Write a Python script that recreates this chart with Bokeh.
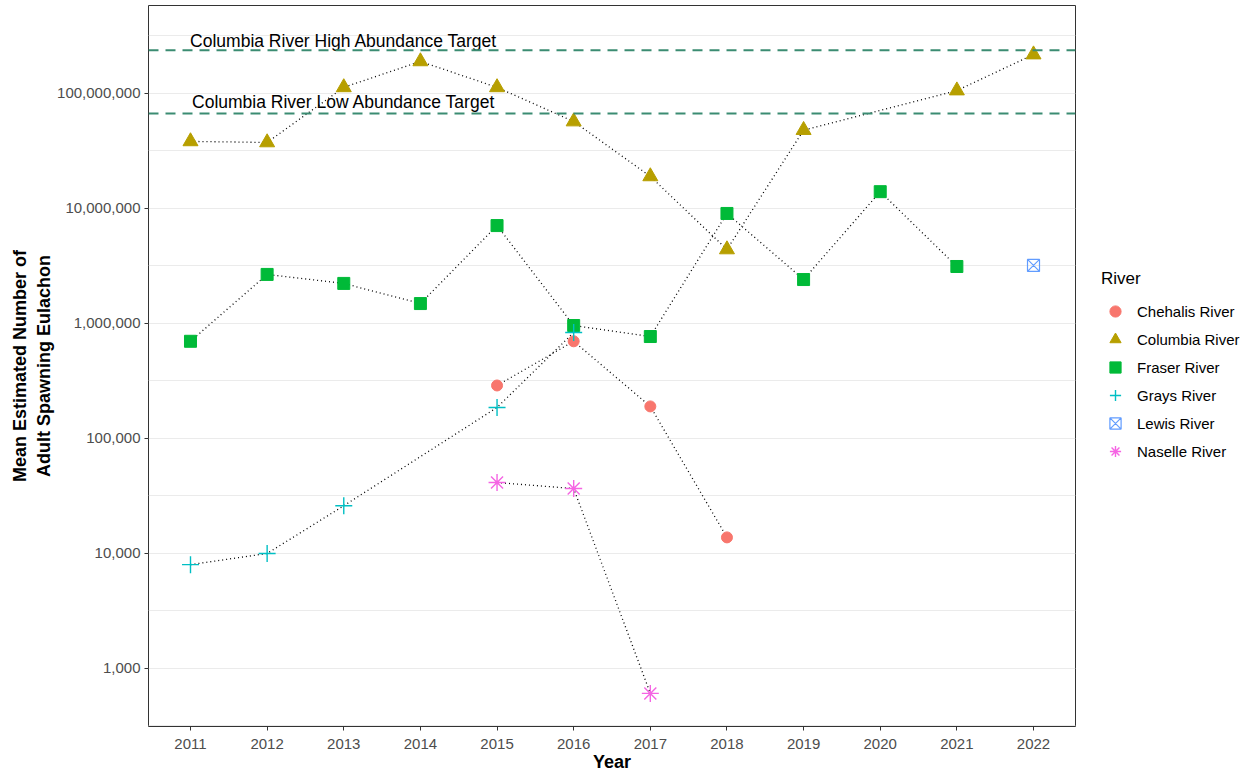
import numpy as np
from bokeh.plotting import figure
from bokeh.layouts import row
from bokeh.models import (Range1d, FixedTicker, NumeralTickFormatter, Span, Legend,
                          LegendItem, ColumnDataSource)
from bokeh.core.properties import value
from bokeh.embed import file_html
from bokeh.resources import INLINE

FONT = "Liberation Sans"

# ---- data ----
chehalis_years = [2015, 2016, 2017, 2018]
chehalis_vals = [289000, 700000, 190000, 13800]

columbia_years = [2011, 2012, 2013, 2014, 2015, 2016, 2017, 2018, 2019, 2021, 2022]
columbia_vals = [38300000, 37500000, 113000000, 190000000, 113000000, 57000000,
                 19000000, 4400000, 48000000, 106000000, 218000000]

fraser_years = [2011, 2012, 2013, 2014, 2015, 2016, 2017, 2018, 2019, 2020, 2021]
fraser_vals = [700000, 2670000, 2230000, 1490000, 7100000, 960000, 770000,
               9050000, 2410000, 14000000, 3130000]

grays_years = [2011, 2012, 2013, 2015, 2016]
grays_vals = [8000, 10000, 26000, 186000, 835000]

lewis_years = [2022]
lewis_vals = [3200000]

naselle_years = [2015, 2016, 2017]
naselle_vals = [41400, 36700, 607]

HIGH_TARGET = 237000000
LOW_TARGET = 67000000

year_ticks = list(range(2011, 2023))
y_ticks = [1e3, 1e4, 1e5, 1e6, 1e7, 1e8]
y_minor = [10 ** (k + 0.5) for k in range(2, 9)]

series = [
    ("Chehalis River", chehalis_years, chehalis_vals, "#F8766D", "circle", 11),
    ("Columbia River", columbia_years, columbia_vals, "#B79F00", "triangle", 15),
    ("Fraser River", fraser_years, fraser_vals, "#00BA38", "square", 12),
    ("Grays River", grays_years, grays_vals, "#00BFC4", "cross", 17),
    ("Lewis River", lewis_years, lewis_vals, "#619CFF", "square_x", 12),
    ("Naselle River", naselle_years, naselle_vals, "#F564E3", "asterisk", 17),
]

H = 776


def draw_marker(fig, src, col, mk, sz):
    if mk in ("cross", "asterisk"):
        return fig.scatter("x", "y", source=src, marker=mk, size=sz, line_color=col,
                           line_width=1.4)
    if mk == "square_x":
        return fig.scatter("x", "y", source=src, marker=mk, size=sz, line_color=col,
                           fill_color=None, line_width=1.2)
    return fig.scatter("x", "y", source=src, marker=mk, size=sz, line_color=col,
                       fill_color=col)


p = figure(width=1076, height=H, output_backend="svg", toolbar_location=None,
           y_axis_type="log",
           x_range=Range1d(2010.452, 2022.548),
           y_range=Range1d(313, 5.82e8),
           min_border_left=148, min_border_right=1, min_border_top=5,
           min_border_bottom=50)

p.background_fill_color = "white"
p.border_fill_color = "white"
p.outline_line_color = "#333333"
p.outline_line_width = 1

# grids
p.xgrid.grid_line_color = None
p.ygrid.grid_line_color = "#EBEBEB"
p.ygrid.grid_line_width = 1
p.ygrid.minor_grid_line_color = "#EBEBEB"
p.ygrid.minor_grid_line_width = 1

# axes
p.xaxis.ticker = FixedTicker(ticks=year_ticks)
p.yaxis.ticker = FixedTicker(ticks=y_ticks, minor_ticks=y_minor)
p.yaxis.formatter = NumeralTickFormatter(format="0,0")
for ax in (p.xaxis[0], p.yaxis[0]):
    ax.axis_line_color = None
    ax.major_tick_line_color = "#333333"
    ax.major_tick_out = 4
    ax.major_tick_in = 0
    ax.minor_tick_line_color = None
    ax.major_label_text_font = FONT
    ax.major_label_text_font_size = "15px"
    ax.major_label_text_color = "#4D4D4D"
    ax.axis_label_text_font = FONT
    ax.axis_label_text_font_size = "18px"
    ax.axis_label_text_font_style = "bold"
    ax.axis_label_text_color = "black"
p.xaxis.major_label_standoff = 8
p.xaxis.axis_label_standoff = 0
p.yaxis.major_label_standoff = 4
p.yaxis.axis_label_standoff = 0
p.xaxis.axis_label = "Year"
p.yaxis.axis_label = "Mean Estimated Number of\nAdult Spawning Eulachon"

# target lines
for t in (HIGH_TARGET, LOW_TARGET):
    p.add_layout(Span(location=t, dimension="width", line_color="#3B8C72",
                      line_width=2, line_dash="10 7"))

p.text(x=[2013, 2013], y=[2.86e8, 8.35e7],
       text=["Columbia River High Abundance Target", "Columbia River Low Abundance Target"],
       text_font=value(FONT), text_font_size="17.5px", text_color="black",
       text_align="center", text_baseline="middle")

# dotted connecting lines
for name, xs, ys, col, mk, sz in series:
    if len(xs) > 1:
        p.line(xs, ys, line_color="black", line_width=1.3, line_dash="1 3")

for name, xs, ys, col, mk, sz in series:
    draw_marker(p, ColumnDataSource(dict(x=xs, y=ys)), col, mk, sz)

# ---- legend panel ----
lg = figure(width=164, height=H, output_backend="svg", toolbar_location=None,
            x_range=Range1d(0, 1), y_range=Range1d(0, 1),
            x_axis_type=None, y_axis_type=None,
            min_border_left=0, min_border_right=0, min_border_top=0,
            min_border_bottom=0)
lg.outline_line_color = None
lg.xgrid.grid_line_color = None
lg.ygrid.grid_line_color = None
lg.background_fill_color = "white"
lg.border_fill_color = "white"

items = []
for name, xs, ys, col, mk, sz in series:
    # off-canvas placeholder point so the legend draws the glyph
    r = draw_marker(lg, ColumnDataSource(dict(x=[-10], y=[-10])), col, mk, sz)
    items.append(LegendItem(label=name, renderers=[r]))

legend = Legend(items=items, title="River", location=(25, 261),
                title_text_font=FONT, title_text_font_size="17px",
                title_text_font_style="normal", title_text_color="black",
                title_standoff=8,
                label_text_font=FONT, label_text_font_size="15px",
                label_text_color="black",
                glyph_width=28, glyph_height=28, label_height=28, spacing=0,
                label_standoff=8, padding=10, margin=0,
                border_line_color=None, background_fill_color=None)
lg.add_layout(legend, "center")

layout = row(p, lg)
open("out.html", "w").write(file_html(layout, INLINE))
